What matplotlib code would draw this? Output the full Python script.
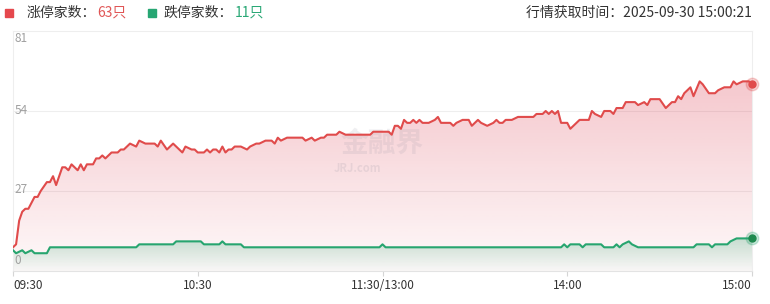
import numpy as np
import matplotlib
matplotlib.use('Agg')
import matplotlib.pyplot as plt
from matplotlib.patches import Rectangle

plt.rcParams['font.family'] = ['Noto Sans CJK SC', 'DejaVu Sans']

# ---- data (minutes of trading time since 09:30) ----
tick_minutes = [0, 60, 120, 180, 240]
tick_labels = ['09:30', '10:30', '11:30/13:00', '14:00', '15:00']
y_ticks = [0, 27, 54, 81]

up_minutes = [0, 1, 2, 3, 4, 5, 7, 8, 9, 11, 12, 13, 14, 16, 17, 18, 19, 21, 22, 23, 24,
              26, 27, 28, 29, 30, 32, 34, 35, 36, 38, 40, 41, 43, 46, 47, 48, 50, 52, 55,
              56, 58, 59, 60, 62, 63, 64, 65, 66, 67, 68, 69, 70, 71, 72, 74, 76, 77, 79,
              80, 82, 84, 85, 86, 87, 89, 94, 95, 97, 98, 100, 101, 102, 105, 106, 108,
              110, 112, 116, 117, 122, 123, 124, 125, 126, 127, 128, 129, 130, 131, 132,
              133, 135, 137, 138, 139, 142, 143, 144, 146, 148, 149, 151, 152, 154, 156,
              157, 158, 159, 160, 162, 164, 169, 170, 172, 173, 174, 175, 176, 177, 178,
              179, 180, 181, 183, 184, 187, 188, 189, 191, 192, 194, 195, 196, 198, 199,
              202, 203, 205, 206, 207, 210, 212, 214, 215, 216, 217, 218, 220, 221, 223,
              224, 226, 227, 228, 229, 231, 233, 234, 235, 237, 239, 240]
up_counts = [8, 9, 17, 20, 21, 21, 25, 25, 27, 30, 30, 32, 29, 35, 35, 34, 36, 34, 36, 34, 36,
             36, 38, 38, 39, 38, 40, 40, 41, 41, 43, 42, 44, 43, 43, 42, 44, 41, 43, 40,
             42, 41, 41, 40, 40, 41, 40, 41, 41, 40, 42, 40, 41, 41, 42, 42, 41, 42, 43,
             43, 44, 44, 43, 45, 44, 45, 45, 44, 45, 44, 45, 45, 46, 46, 47, 46,
             46, 46, 46, 47, 47, 46, 49, 49, 48, 51, 50, 50, 51, 50, 51,
             50, 50, 51, 52, 50, 50, 49, 50, 51, 51, 49, 51, 50, 49, 50,
             51, 50, 50, 51, 51, 52, 52, 53, 53, 54, 53, 54, 53, 54, 50,
             50, 50, 48, 50, 51, 51, 54, 53, 52, 54, 54, 53, 55, 55, 57,
             57, 56, 57, 56, 58, 58, 55, 57, 57, 59, 58, 60, 62, 59, 64,
             63, 60, 60, 60, 61, 62, 62, 64, 63, 64, 64, 63]

down_minutes = [0, 1, 3, 4, 6, 7, 11, 12, 40, 41, 52, 53, 61, 62, 67, 68, 69, 74, 75,
                119, 120, 121, 178, 179, 180, 181, 184, 185, 186, 191, 192, 195, 196,
                197, 198, 200, 201, 203, 221, 222, 226, 227, 228, 232, 233, 235, 240]
down_counts = [7, 6, 7, 6, 7, 6, 6, 8, 8, 9, 9, 10, 10, 9, 9, 10, 9, 9, 8,
               8, 9, 8, 8, 9, 8, 9, 9, 8, 9, 9, 8, 8, 9,
               8, 9, 10, 9, 8, 8, 9, 9, 8, 9, 9, 10, 11, 11]

up_total = 63
down_total = 11
stamp = '2025-09-30 15:00:21'

RED = '#e04b4b'
GREEN = '#27a56f'
W, H = 770, 304


def gradient_fill(ax, x, y, rgb, a_top, a_bottom, z):
    poly = ax.fill_between(x, y, 0, color='none', lw=0)
    n = 256
    grad = np.zeros((n, 1, 4))
    grad[:, 0, :3] = rgb
    grad[:, 0, 3] = np.linspace(a_bottom, a_top, n)
    im = ax.imshow(grad, extent=[x[0], x[-1], 0, max(y)], origin='lower',
                   aspect='auto', zorder=z, interpolation='bilinear')
    im.set_clip_path(poly.get_paths()[0], transform=ax.transData)


fig = plt.figure(figsize=(W / 100, H / 100), dpi=100)
ax = fig.add_axes([13 / W, 33 / H, 739 / W, 240 / H])

gradient_fill(ax, up_minutes, up_counts, (0.86, 0.2, 0.28), 0.27, 0.03, 1)
gradient_fill(ax, down_minutes, down_counts, (0.12, 0.63, 0.4), 0.24, 0.02, 2)

ax.plot(up_minutes, up_counts, color=RED, lw=1.5, zorder=4, solid_joinstyle='round')
ax.plot(down_minutes, down_counts, color=GREEN, lw=1.5, zorder=4, solid_joinstyle='round')

# end points
ax.plot(up_minutes[-1], up_counts[-1], 'o', ms=9, color=RED, alpha=0.25, clip_on=False, zorder=5)
ax.plot(up_minutes[-1], up_counts[-1], 'o', ms=5, color=RED, clip_on=False, zorder=6)
ax.plot(down_minutes[-1], down_counts[-1], 'o', ms=9, color=GREEN, alpha=0.25, clip_on=False, zorder=5)
ax.plot(down_minutes[-1], down_counts[-1], 'o', ms=5, color='#1f8a4f', clip_on=False, zorder=6)

ax.set_xlim(0, 240)
ax.set_ylim(0, 81)

# grid + frame
for v in y_ticks[1:-1]:
    ax.axhline(v, color='#eeeeee', lw=0.8, zorder=0)
for side in ['left', 'right', 'top']:
    ax.spines[side].set_color('#eeeeee')
    ax.spines[side].set_linewidth(0.8)
ax.spines['bottom'].set_color('#e3e3e3')
ax.spines['bottom'].set_linewidth(0.8)

# y labels drawn inside the plot
ax.set_yticks([])
y_va = {81: 'top', 54: 'center', 27: 'center', 0: 'bottom'}
y_off = {81: -0.3, 54: 0.3, 27: 0.6, 0: 1.2}
for v in y_ticks:
    ax.text(0.5, v + y_off[v], str(v), ha='left', va=y_va[v], fontsize=8.5,
            color='#a0a0a0', zorder=3)

ax.set_xticks(tick_minutes)
ax.set_xticklabels(tick_labels)
ax.tick_params(axis='x', length=3.5, width=0.8, color='#d5d5d5', pad=2,
               labelsize=8.5, labelcolor='#333333')
labels = ax.get_xticklabels()
labels[0].set_ha('left')
labels[-1].set_ha('right')

# watermark
ax.text(120, 43.0, '金融界', ha='center', va='center', fontsize=20, fontweight='bold',
        color='#8a8a9a', alpha=0.13, zorder=3)
ax.text(112, 34.6, 'JRJ.com', ha='center', va='center', fontsize=8, fontweight='bold',
        color='#8a8a9a', alpha=0.16, zorder=3)

# legend / header
def px(x, y):
    return x / W, 1 - y / H

fig.add_artist(Rectangle(px(5, 17), 8 / W, 8 / H, color='#e5484d', transform=fig.transFigure))
fig.add_artist(Rectangle(px(148, 17), 8 / W, 8 / H, color='#27a673', transform=fig.transFigure))
fig.text(*px(27, 13), '涨停家数：', fontsize=10, color='#333333', va='center')
fig.text(*px(97, 13), f'{up_total}只', fontsize=10, color='#e05656', va='center')
fig.text(*px(164, 13), '跌停家数：', fontsize=10, color='#333333', va='center')
fig.text(*px(235, 13), f'{down_total}只', fontsize=10, color='#2aa876', va='center')
fig.text(*px(752, 13), f'行情获取时间：{stamp}', fontsize=10, color='#333333',
         va='center', ha='right')

fig.savefig('out.png', dpi=100, facecolor='white')
